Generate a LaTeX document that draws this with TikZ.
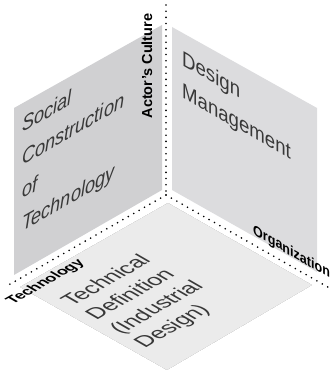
\documentclass[tikz,border=0pt]{standalone}
\usepackage{fontspec}
\setmainfont{Liberation Sans}
\usetikzlibrary{calc}
\definecolor{leftgray}{HTML}{D0D0D2}
\definecolor{rightgray}{HTML}{DCDCDE}
\definecolor{floorgray}{HTML}{EBEBEB}
\definecolor{inkgray}{HTML}{383838}
\begin{document}
\begin{tikzpicture}[x=1pt,y=1pt,
  dotline/.style={line width=1.8pt, dash pattern=on 0pt off 6.2pt, line cap=round},
  paneltext/.style={transform shape, anchor=base west, inner sep=0pt, text=inkgray,
    font=\fontsize{21}{25}\selectfont},
  axislabel/.style={inner sep=0pt, font=\fontsize{14.5}{16}\selectfont\bfseries}]
\useasboundingbox (0,0) rectangle (335,374);
% corners
\coordinate (L1) at (14,266); \coordinate (L2) at (162,349);
\coordinate (L3) at (162,184); \coordinate (L4) at (14,99);
\coordinate (R1) at (172,347); \coordinate (R2) at (317,266);
\coordinate (R3) at (317,102); \coordinate (R4) at (172,184);
\coordinate (Ft) at (168,171); \coordinate (Fr) at (312,89);
\coordinate (Fb) at (167,4); \coordinate (Fl) at (20,87);
\coordinate (C) at (166,179); \coordinate (Ctop) at (166,369);
\coordinate (Cleft) at (5,87); \coordinate (Cright) at (333,84);
% shadow
\foreach \i in {1,...,18}{
  \fill[black, opacity=0.026, shift={(\i*1.0,-\i*1.7)}]
    (Ft) -- (Fr) -- (Fb) -- (Fl) -- cycle;
}
% panels
\fill[leftgray] (L1) -- (L2) -- (L3) -- (L4) -- cycle;
\fill[rightgray] (R1) -- (R2) -- (R3) -- (R4) -- cycle;
\fill[floorgray] (Ft) -- (Fr) -- (Fb) -- (Fl) -- cycle;
% dotted axes
\draw[dotline] (Ctop) -- (C);
\draw[dotline] (C) -- (Cleft);
\draw[dotline] (C) -- (Cright);
% left wall text
\begin{scope}[cm={0.866,0.5,0,1,(22,241)}]
  \node[paneltext, font=\fontsize{21}{25}\selectfont\itshape] (s1) at (0,0) {Social};
  \node[paneltext, font=\fontsize{21}{25}\selectfont\itshape] (s2) at (0,-33) {Construction};
  \node[paneltext, font=\fontsize{21}{25}\selectfont\itshape] (s3) at (0,-66) {of};
  \node[paneltext, font=\fontsize{21}{25}\selectfont\itshape] (s4) at (0,-99) {Technology};
\end{scope}
% right wall text
\begin{scope}[cm={0.866,-0.5,0,1,(182,309)}]
  \node[paneltext, font=\fontsize{21.5}{25}\selectfont] (d1) at (0,0) {Design};
  \node[paneltext, font=\fontsize{21.5}{25}\selectfont] (d2) at (0,-32) {Management};
\end{scope}
\begin{scope}[cm={0.866,-0.5,0,1,(253,140)}]
  \node[axislabel, transform shape, anchor=base west] (org) at (0,0) {Organization};
\end{scope}
% floor text
\begin{scope}[cm={0.866,0.5,-0.866,0.5,(72,67)}]
  \node[paneltext, font=\fontsize{22}{25}\selectfont] (t1) at (0,0) {Technical};
  \node[paneltext, font=\fontsize{22}{25}\selectfont] (t2) at (0,-28) {Definition};
  \node[paneltext, font=\fontsize{22}{25}\selectfont] (t3) at (0,-56) {(Industrial};
  \node[paneltext, font=\fontsize{22}{25}\selectfont] (t4) at (0,-84) {Design)};
\end{scope}
\begin{scope}[cm={0.866,0.5,-0.866,0.5,(13,69)}]
  \node[axislabel, font=\fontsize{15}{16}\selectfont\bfseries, transform shape, anchor=base west] (tech) at (0,0) {Technology};
\end{scope}
% actor's culture
\node[axislabel, rotate=90] (act) at (147,308) {Actor's Culture};
\end{tikzpicture}
\end{document}
